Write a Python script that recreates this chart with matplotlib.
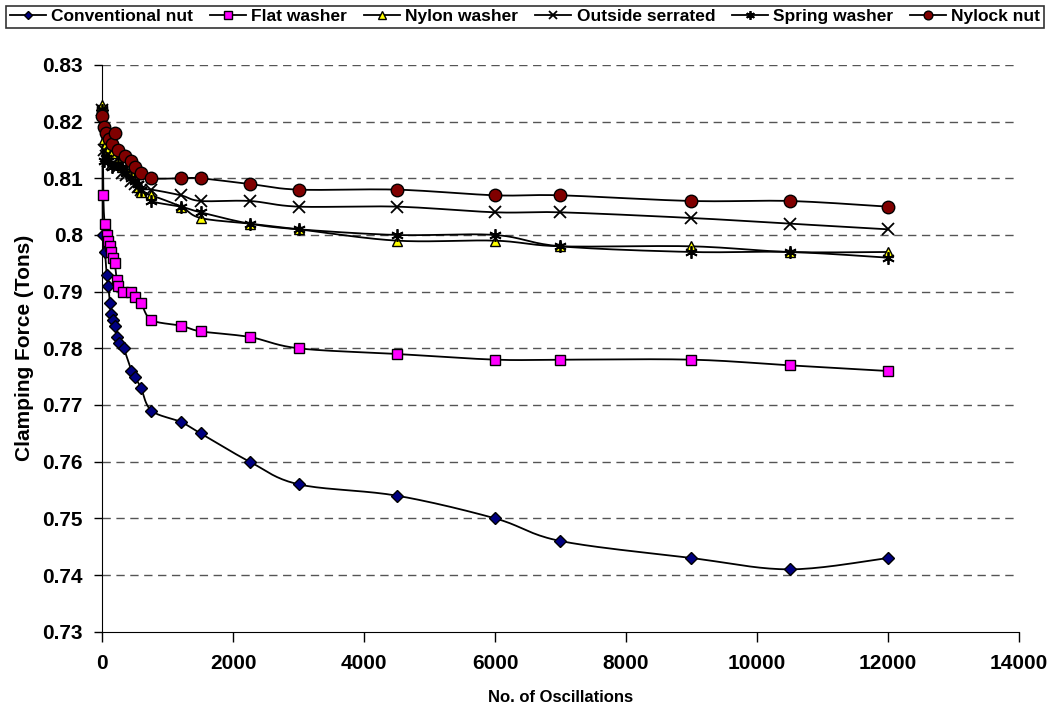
import numpy as np
import matplotlib
matplotlib.use('Agg')
from matplotlib import pyplot as plt
from matplotlib.lines import Line2D

plt.rcParams['font.family'] = ['Liberation Sans', 'DejaVu Sans']
plt.rcParams['font.weight'] = 'bold'

# data
x_conv = [0, 5, 40, 65, 90, 115, 135, 160, 190, 220, 250, 325, 445, 495, 590, 750,
          1200, 1500, 2250, 3000, 4500, 6000, 7000, 9000, 10500, 12000]
y_conv = [0.822, 0.800, 0.797, 0.793, 0.791, 0.788, 0.786, 0.785, 0.784, 0.782, 0.781,
          0.780, 0.776, 0.775, 0.773, 0.769, 0.767, 0.765, 0.760, 0.756, 0.754, 0.750,
          0.746, 0.743, 0.741, 0.743]

x_flat = [0, 15, 35, 65, 90, 110, 135, 160, 190, 220, 245, 320, 440, 495, 590, 750,
          1200, 1500, 2250, 3000, 4500, 6000, 7000, 9000, 10500, 12000]
y_flat = [0.822, 0.807, 0.802, 0.800, 0.799, 0.798, 0.797, 0.796, 0.795, 0.792, 0.791,
          0.790, 0.790, 0.789, 0.788, 0.785, 0.784, 0.783, 0.782, 0.780, 0.779, 0.778,
          0.778, 0.778, 0.777, 0.776]

x_top = [0, 25, 50, 80, 150, 240, 305, 355, 435, 495, 545, 595, 750,
         1200, 1500, 2250, 3000, 4500, 6000, 7000, 9000, 10500, 12000]
y_nylon = [0.823, 0.817, 0.816, 0.815, 0.8145, 0.813, 0.812, 0.8115, 0.811, 0.810, 0.8085,
           0.8075, 0.807, 0.805, 0.803, 0.802, 0.801, 0.799, 0.799, 0.798, 0.798, 0.797, 0.797]
y_serr = [0.822, 0.815, 0.814, 0.813, 0.8125, 0.812, 0.811, 0.8105, 0.8095, 0.809, 0.8085,
          0.808, 0.808, 0.807, 0.806, 0.806, 0.805, 0.805, 0.804, 0.804, 0.803, 0.802, 0.801]
y_spring = [0.822, 0.813, 0.8135, 0.813, 0.812, 0.8125, 0.812, 0.811, 0.810, 0.8095, 0.809,
            0.808, 0.806, 0.805, 0.804, 0.802, 0.801, 0.800, 0.800, 0.798, 0.797, 0.797, 0.796]

x_nylock = [0, 20, 60, 100, 150, 195, 240, 340, 440, 495, 595, 750,
            1200, 1500, 2250, 3000, 4500, 6000, 7000, 9000, 10500, 12000]
y_nylock = [0.821, 0.819, 0.818, 0.817, 0.816, 0.818, 0.815, 0.814, 0.813, 0.812, 0.811,
            0.810, 0.810, 0.810, 0.809, 0.808, 0.808, 0.807, 0.807, 0.806, 0.806, 0.805]

series = [
    ('Conventional nut', x_conv, y_conv, dict(marker='D', mfc='#000080', ms=6)),
    ('Flat washer', x_flat, y_flat, dict(marker='s', mfc='#FF00FF', ms=7.5)),
    ('Nylon washer', x_top, y_nylon, dict(marker='^', mfc='#FFFF00', ms=7.5)),
    ('Outside serrated', x_top, y_serr, dict(marker='x', mfc='none', ms=9, mew=1.3)),
    ('Spring washer', x_top, y_spring, dict(marker=(6, 2, 0), mfc='none', ms=9, mew=1.3)),
    ('Nylock nut', x_nylock, y_nylock, dict(marker='o', mfc='#800000', ms=9)),
]


def smooth(ax, xs, ys, n=20):
    # excel-like smoothed line, bezier through points in screen space
    pts = ax.transData.transform(np.column_stack([xs, ys]))
    out = [pts[0]]
    for i in range(len(pts) - 1):
        p0 = pts[i - 1] if i > 0 else pts[i]
        p1 = pts[i]
        p2 = pts[i + 1]
        p3 = pts[i + 2] if i + 2 < len(pts) else pts[i + 1]
        c1 = p1 + (p2 - p0) / 6.0
        c2 = p2 - (p3 - p1) / 6.0
        t = np.linspace(0, 1, n)[1:, None]
        seg = ((1 - t) ** 3) * p1 + 3 * ((1 - t) ** 2) * t * c1 + 3 * (1 - t) * t ** 2 * c2 + t ** 3 * p2
        out.extend(seg)
    out = np.array(out)
    return ax.transData.inverted().transform(out)


fig = plt.figure(figsize=(10.5, 7.1), dpi=100)
ax = fig.add_axes([0.0975, 0.1103, 0.8726, 0.7982])
ax.set_xlim(0, 14000)
ax.set_ylim(0.73, 0.83)
ax.set_xticks(np.arange(0, 14001, 2000))
ax.set_yticks(np.arange(0.73, 0.8301, 0.01))
ax.set_yticklabels(['0.73', '0.74', '0.75', '0.76', '0.77', '0.78', '0.79', '0.8', '0.81', '0.82', '0.83'])
for v in np.arange(0.74, 0.8301, 0.01):
    ax.axhline(v, color='#555555', lw=1, ls=(0, (6, 4)), zorder=0)
for s in ['top', 'right']:
    ax.spines[s].set_visible(False)
ax.tick_params(axis='both', labelsize=15, width=1, direction='out')
ax.tick_params(axis='x', length=7, pad=9)
ax.tick_params(axis='y', length=6, pad=8)
ax.set_xlabel('No. of Oscillations', fontsize=12, fontweight='bold', labelpad=12)
ax.set_ylabel('Clamping Force (Tons)', fontsize=15, fontweight='bold', labelpad=6)

handles = []
for name, xs, ys, st in series:
    sm = smooth(ax, xs, ys)
    ax.plot(sm[:, 0], sm[:, 1], color='black', lw=1.3, zorder=2, clip_on=False)
    ax.plot(xs, ys, ls='none', color='black', mec='black', zorder=3, clip_on=False, **st)
    hst = dict(st)
    hst['ms'] = st['ms'] * 0.7
    handles.append(Line2D([0], [0], color='black', lw=1.3, mec='black', label=name, **hst))

leg = fig.legend(handles=handles, loc='upper center', bbox_to_anchor=(0.5, 0.997), ncol=6,
                 frameon=True, fancybox=False, edgecolor='black', fontsize=12.5,
                 handlelength=2.1, handletextpad=0.3, columnspacing=0.95,
                 borderpad=0.2, borderaxespad=0.2)
leg.get_frame().set_linewidth(1.2)
for t in leg.get_texts():
    t.set_fontweight('bold')

fig.savefig('out.png', dpi=100)
